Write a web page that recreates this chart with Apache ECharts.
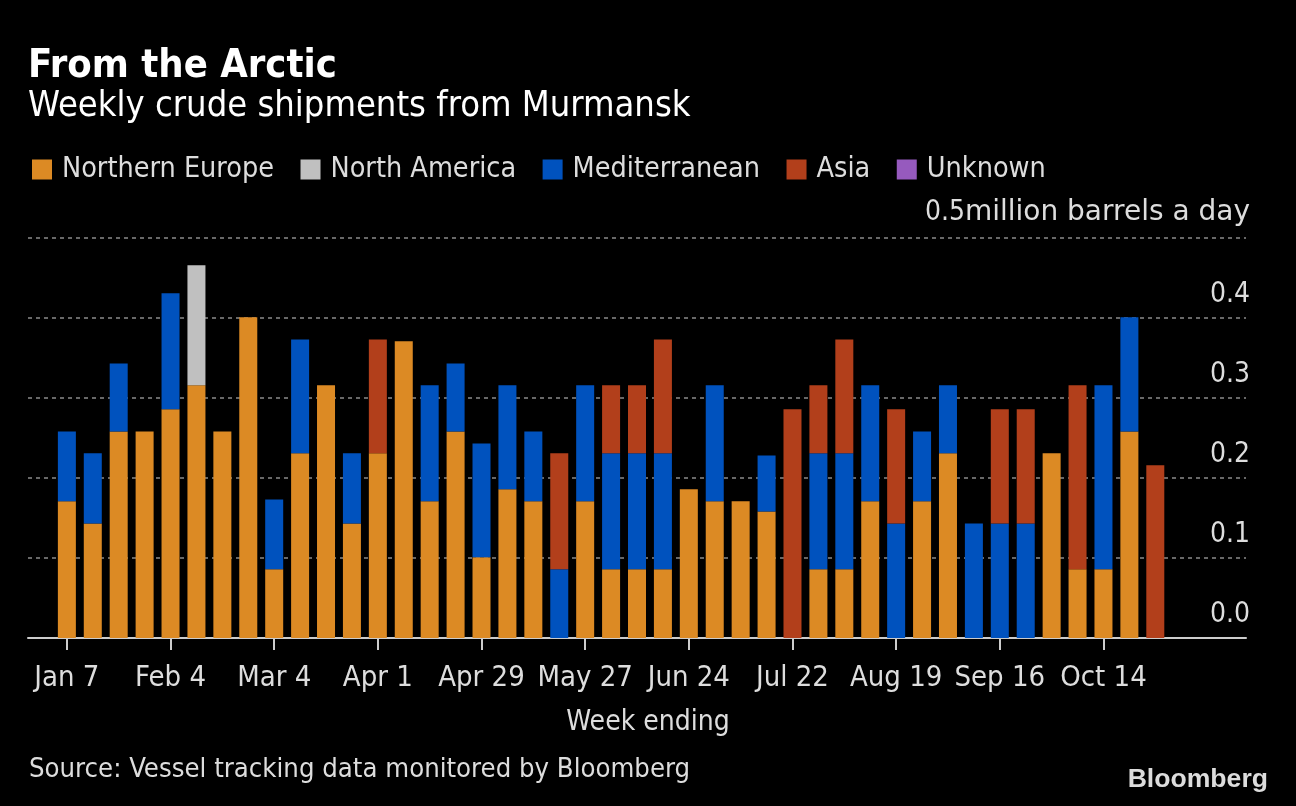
<!DOCTYPE html>
<html>
<head>
<meta charset="utf-8">
<script src="https://cdn.jsdelivr.net/npm/echarts@6/dist/echarts.min.js"></script>
<style>
html,body{margin:0;padding:0;background:#000;}
#chart{width:1296px;height:806px;}
</style>
</head>
<body>
<div id="chart"></div>
<script>
const weeks = ["Jan 7","Jan 14","Jan 21","Jan 28","Feb 4","Feb 11","Feb 18","Feb 25","Mar 4","Mar 11","Mar 18","Mar 25","Apr 1","Apr 8","Apr 15","Apr 22","Apr 29","May 6","May 13","May 20","May 27","Jun 3","Jun 10","Jun 17","Jun 24","Jul 1","Jul 8","Jul 15","Jul 22","Jul 29","Aug 5","Aug 12","Aug 19","Aug 26","Sep 2","Sep 9","Sep 16","Sep 23","Sep 30","Oct 7","Oct 14","Oct 21","Oct 28"];
const tickLabels = ["Jan 7","Feb 4","Mar 4","Apr 1","Apr 29","May 27","Jun 24","Jul 22","Aug 19","Sep 16","Oct 14"];
const northernEurope = [0.171,0.143,0.258,0.258,0.286,0.316,0.258,0.401,0.086,0.231,0.316,0.143,0.231,0.371,0.171,0.258,0.101,0.186,0.171,0,0.171,0.086,0.086,0.086,0.186,0.171,0.171,0.158,0,0.086,0.086,0.171,0,0.171,0.231,0,0,0,0.231,0.086,0.086,0.258,0];
const northAmerica = [0,0,0,0,0,0.150,0,0,0,0,0,0,0,0,0,0,0,0,0,0,0,0,0,0,0,0,0,0,0,0,0,0,0,0,0,0,0,0,0,0,0,0,0];
const mediterranean = [0.087,0.088,0.085,0,0.145,0,0,0,0.087,0.142,0,0.088,0,0,0.145,0.085,0.142,0.130,0.087,0.086,0.145,0.145,0.145,0.145,0,0.145,0,0.070,0,0.145,0.145,0.145,0.143,0.087,0.085,0.143,0.143,0.143,0,0,0.230,0.143,0];
const asia = [0,0,0,0,0,0,0,0,0,0,0,0,0.142,0,0,0,0,0,0,0.145,0,0.085,0.085,0.142,0,0,0,0,0.286,0.085,0.142,0,0.143,0,0,0,0.143,0.143,0,0.230,0,0,0.216];
const unknown = [0,0,0,0,0,0,0,0,0,0,0,0,0,0,0,0,0,0,0,0,0,0,0,0,0,0,0,0,0,0,0,0,0,0,0,0,0,0,0,0,0,0,0];
const yTicks = [0,0.1,0.2,0.3,0.4,0.5];

const FONT = '"DejaVu Sans Condensed","Liberation Sans Narrow","DejaVu Sans",sans-serif';
const showTick = (i) => tickLabels.indexOf(weeks[i]) >= 0;

const seriesDefs = [
  {name: 'Northern Europe', data: northernEurope, color: '#DC8A24'},
  {name: 'North America', data: northAmerica, color: '#C0C0C0'},
  {name: 'Mediterranean', data: mediterranean, color: '#0052BE'},
  {name: 'Asia', data: asia, color: '#B23F1B'},
  {name: 'Unknown', data: unknown, color: '#965ABE'}
];

const chart = echarts.init(document.getElementById('chart'));
chart.setOption({
  backgroundColor: '#000',
  animation: false,
  textStyle: {fontFamily: FONT},
  title: [
    {text: 'From the Arctic', left: 28, top: 47, padding: 0, textStyle: {color: '#fff', fontSize: 39.6, fontWeight: 'bold', fontFamily: FONT}},
    {text: 'Weekly crude shipments from Murmansk', left: 28, top: 89, padding: 0, textStyle: {color: '#fff', fontSize: 36, fontWeight: 'normal', fontFamily: FONT}},
    {text: 'Week ending', left: 648, top: 709, padding: 0, textAlign: 'center', textStyle: {color: '#ddd', fontSize: 28, fontWeight: 'normal', fontFamily: FONT}},
    {text: 'Source: Vessel tracking data monitored by Bloomberg', left: 29, top: 756, padding: 0, textStyle: {color: '#ddd', fontSize: 27.25, fontWeight: 'normal', fontFamily: FONT}},
    {text: 'Bloomberg', right: 28, top: 766, padding: 0, textStyle: {color: '#dcdcdc', fontSize: 26.6, fontWeight: 'bold', fontFamily: '"Liberation Sans",Arial,sans-serif'}}
  ],
  legend: {
    left: 32, top: 155, padding: 0,
    icon: 'rect', itemWidth: 20, itemHeight: 20, itemGap: 26.5,
    selectedMode: false,
    textStyle: {color: '#ddd', fontSize: 28.5, fontFamily: FONT, padding: [0, 0, 0, 5]},
    data: seriesDefs.map(s => s.name)
  },
  grid: {left: 28, right: 50, top: 238, bottom: 168, containLabel: false},
  xAxis: {
    type: 'category', data: weeks, min: -1, max: 45, boundaryGap: true,
    splitLine: {show: false},
    axisLine: {show: true, lineStyle: {color: '#ccc', width: 2}},
    axisTick: {show: true, alignWithLabel: true, interval: (i) => showTick(i), length: 12, lineStyle: {color: '#ccc', width: 2}},
    axisLabel: {interval: (i) => showTick(i), margin: 26, color: '#ddd', fontSize: 29, fontFamily: FONT,
      hideOverlap: false, formatter: v => (v == null ? '' : v)}
  },
  yAxis: {
    type: 'value', position: 'right', min: 0, max: 0.5, interval: 0.1,
    axisLine: {show: false}, axisTick: {show: false},
    splitLine: {show: true, lineStyle: {color: '#686868', width: 2, type: [4, 4]}},
    axisLabel: {inside: true, margin: -4, color: '#ddd', fontSize: 28, fontFamily: FONT,
      verticalAlign: 'bottom', padding: [0, 0, 9, 0],
      formatter: v => Math.abs(v - 0.5) < 1e-9 ? '{a|0.5}{b|million barrels a day}' : v.toFixed(1),
      rich: {
        a: {color: '#ddd', fontSize: 28, fontFamily: FONT, padding: [0, 0, 2, 0]},
        b: {color: '#ddd', fontSize: 28, fontFamily: '"DejaVu Sans",sans-serif', padding: [0, 0, 2, 0]}
      }}
  },
  series: seriesDefs.map(s => ({
    name: s.name, type: 'bar', stack: 'total', barWidth: 18,
    itemStyle: {color: s.color},
    data: s.data
  }))
});
</script>
</body>
</html>
